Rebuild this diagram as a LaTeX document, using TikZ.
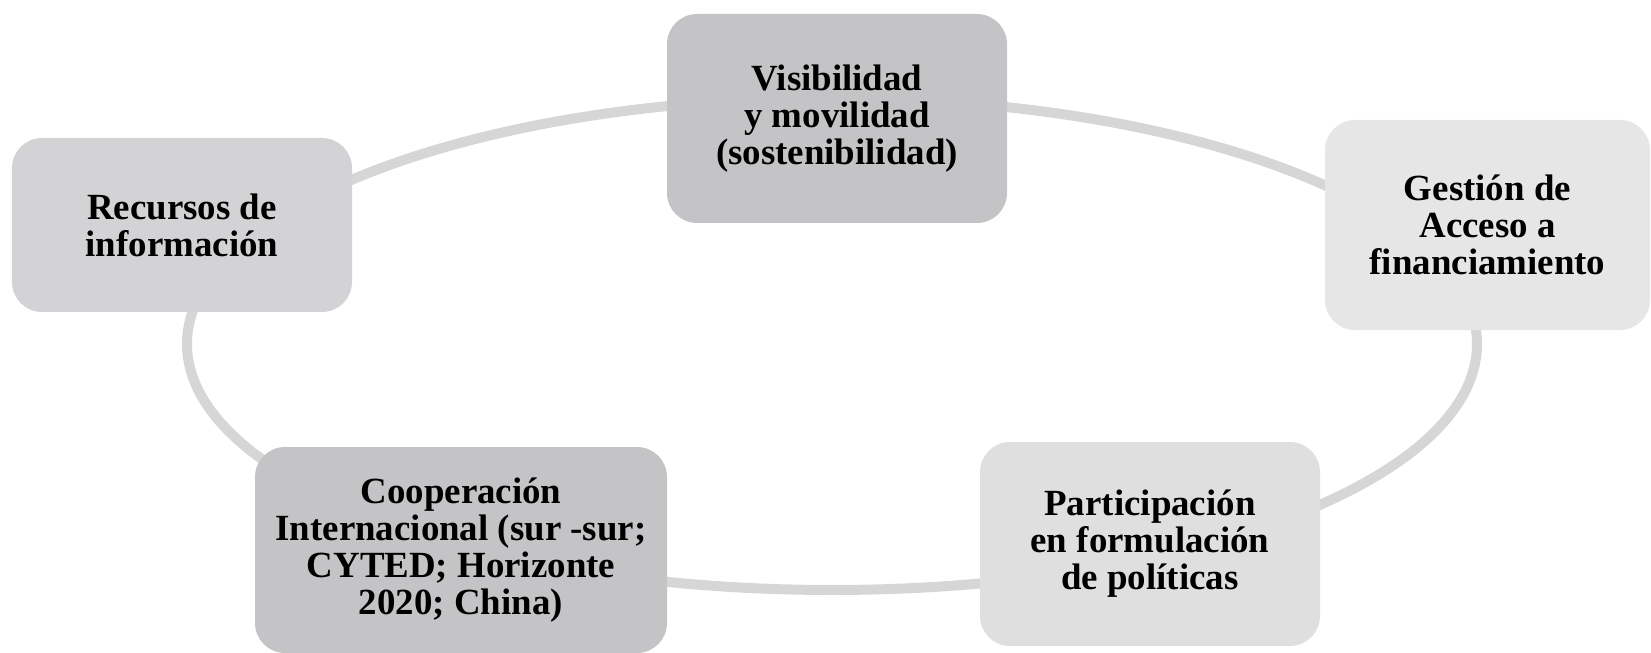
\documentclass[tikz,border=0pt]{standalone}
\usepackage{fontspec}
\setmainfont{Liberation Serif}

\definecolor{ringgray}{RGB}{214,214,214}
\definecolor{boxdark}{RGB}{196,196,198}
\definecolor{boxmid}{RGB}{211,211,213}
\definecolor{boxlight}{RGB}{223,223,223}
\definecolor{boxpale}{RGB}{230,230,230}

\begin{document}
\begin{tikzpicture}
\tikzstyle{every node}=[font=\bfseries\fontsize{21}{21}\selectfont, align=center]
\tikzstyle{box}=[rounded corners=0.6cm, inner sep=0pt]
\useasboundingbox (0,0) rectangle (33.02,13.04);

% ring behind the boxes
\coordinate (centre) at (16.64,6.16);
\draw[line width=0.2cm, color=ringgray] (centre) ellipse [x radius=12.9, y radius=4.92];

\node[box, fill=boxmid, minimum width=6.8cm, minimum height=3.48cm] (recursos) at (3.64,8.54)
	{Recursos de\\información};
\node[box, fill=boxdark, minimum width=6.8cm, minimum height=4.18cm] (visibilidad) at (16.74,10.67)
	{Visibilidad\\y movilidad\\(sostenibilidad)};
\node[box, fill=boxpale, minimum width=6.5cm, minimum height=4.2cm] (gestion) at (29.75,8.54)
	{Gestión de\\Acceso a\\financiamiento};
\node[box, fill=boxdark, minimum width=8.24cm, minimum height=4.12cm] (cooperacion) at (9.22,2.04)
	{Cooperación\\Internacional (sur -sur;\\CYTED; Horizonte\\2020; China)};
\node[box, fill=boxlight, minimum width=6.8cm, minimum height=4.08cm] (participacion) at (23.0,2.16)
	{Participación\\en formulación\\de políticas};

\end{tikzpicture}
\end{document}
